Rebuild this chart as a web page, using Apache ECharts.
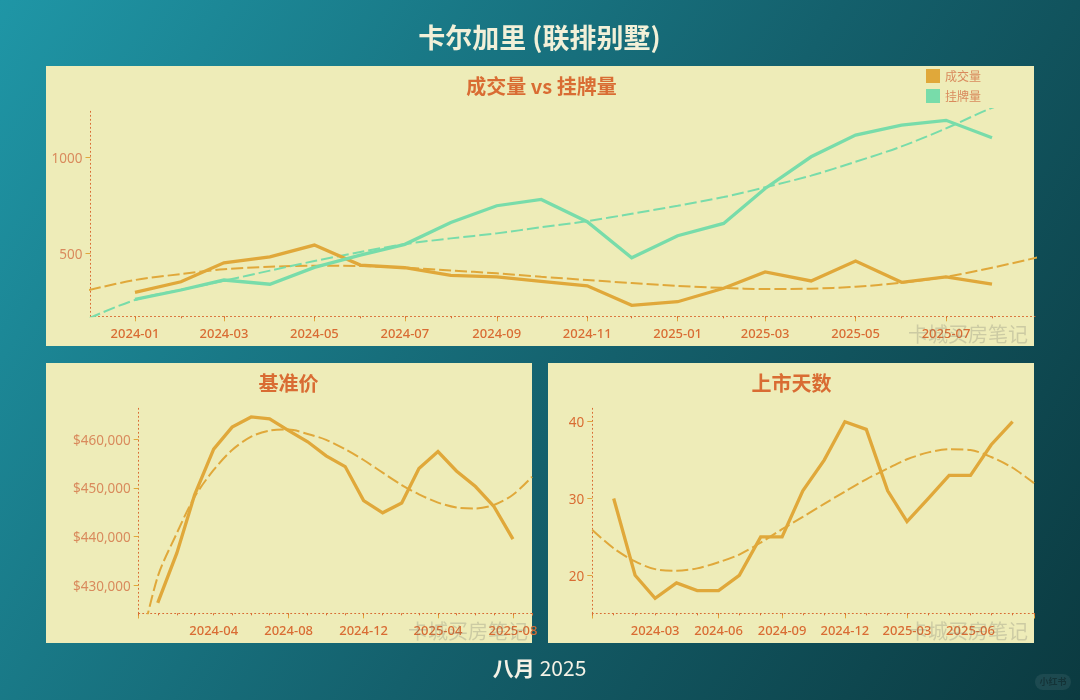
<!DOCTYPE html>
<html>
<head>
<meta charset="utf-8">
<title>卡尔加里 (联排别墅)</title>
<script src="https://cdn.jsdelivr.net/npm/echarts@6/dist/echarts.min.js"></script>
<style>
html,body{margin:0;padding:0;background:#14606c;}
#main{width:1080px;height:700px;}
</style>
</head>
<body>
<div id="main"></div>
<script>
// monthly data points
var months = ['2024-01-01','2024-02-01','2024-03-01','2024-04-01','2024-05-01','2024-06-01','2024-07-01','2024-08-01','2024-09-01','2024-10-01','2024-11-01','2024-12-01',
	'2025-01-01','2025-02-01','2025-03-01','2025-04-01','2025-05-01','2025-06-01','2025-07-01','2025-08-01'];
var sales = [297,352,451,482,543,439,425,385,377,354,331,229,248,318,403,356,460,349,377,339];
var listings = [260,309,361,339,427,491,547,661,748,781,665,477,592,656,838,1003,1116,1168,1193,1102];
var benchmark = [426400,436600,448600,458000,462500,464600,464200,461800,459500,456600,454400,447400,444900,446900,454000,457500,453500,450300,446200,439500];
var dom = [30,20,17,19,18,18,20,25,25,31,35,40,39,31,27,30,33,33,37,40];

// trend lines run one month past the data on both sides
var trendDates = ['2023-12-01'].concat(months, ['2025-09-01']);
var salesTrend = [309,361,392,417,430,436,434,425,411,396,378,361,345,330,320,314,316,326,347,378,425,479];
var listingsTrend = [162,257,310,357,410,460,507,548,578,604,636,668,706,748,793,844,905,977,1057,1151,1258,1340];
var benchmarkTrend = [416000,431800,440700,448200,453700,457800,460550,461800,462000,461100,459900,457950,455750,453150,450600,448700,447000,446000,445800,446500,448600,452300];
var domTrend = [25.9,23.5,21.8,20.8,20.6,20.9,21.7,22.7,24.25,26,27.6,29.3,30.9,32.5,33.9,35.1,36,36.4,36.3,35.4,34,32];

// tick labels
var topTicks = ['2024-01-01','2024-03-01','2024-05-01','2024-07-01','2024-09-01','2024-11-01','2025-01-01','2025-03-01','2025-05-01','2025-07-01'];
var leftTicks = ['2024-04-01','2024-08-01','2024-12-01','2025-04-01','2025-08-01'];
var leftTickMarks = ['2023-12-01'].concat(leftTicks);
var rightTicks = ['2024-03-01','2024-06-01','2024-09-01','2024-12-01','2025-03-01','2025-06-01'];
var rightTickMarks = ['2023-12-01'].concat(rightTicks, ['2025-09-01']);
var allMonthTicks = ['2023-12-01'].concat(months, ['2025-09-01']);

var GOLD = '#e0a83a', GREEN = '#78dcaa', ORANGE = '#d96c33', SOFT = '#d98a5c', PANEL = '#eeecb8';
var FONT = '"Noto Sans", sans-serif';
var CJK = '"Noto Sans CJK SC", sans-serif';

function ts(s){
	return echarts.number.parseDate(s).getTime();
}
function pairs(xs, ys){
	return xs.map(function(x, i){ return [ts(x), ys[i]]; });
}
function mainXAxis(gridIndex, min, max, labels, marks){
	return {
		type: 'time', gridIndex: gridIndex, position: 'bottom', min: ts(min), max: ts(max),
		splitLine: {show: false},
		axisLine: {show: true, lineStyle: {color: ORANGE, type: [1, 3], width: 1}},
		axisTick: {show: true, length: 5, customValues: marks.map(ts), lineStyle: {color: GOLD}},
		axisLabel: {
			customValues: labels.map(ts), margin: 11, color: ORANGE, fontFamily: FONT, fontSize: 13, fontWeight: 500,
			hideOverlap: false, showMinLabel: true, showMaxLabel: true,
			formatter: '{yyyy}-{MM}'
		}
	};
}
// 每月的小刻度
function minorXAxis(gridIndex, min, max){
	return {
		type: 'time', gridIndex: gridIndex, position: 'bottom', min: ts(min), max: ts(max),
		splitLine: {show: false},
		axisLine: {show: false},
		axisTick: {show: true, length: 2, customValues: allMonthTicks.map(ts), lineStyle: {color: ORANGE}},
		axisLabel: {show: false}
	};
}
function yAxis(gridIndex, min, max, ticks, color, formatter){
	return {
		type: 'value', gridIndex: gridIndex, min: min, max: max,
		axisLine: {show: true, lineStyle: {color: ORANGE, type: [1, 3], width: 1}},
		axisTick: {show: true, length: 5, customValues: ticks, lineStyle: {color: GOLD}},
		splitLine: {show: false},
		axisLabel: {
			customValues: ticks, margin: 8,
			formatter: function(v){ return '{t|' + formatter(v) + '}'; },
			rich: {t: {color: color, fontFamily: FONT, fontSize: 13.5, padding: [3, 0, 0, 0]}}
		}
	};
}
function line(name, data, axisIndex, color){
	return {
		name: name, type: 'line', xAxisIndex: axisIndex, yAxisIndex: axisIndex, data: data,
		showSymbol: false, symbol: 'none', itemStyle: {color: color},
		lineStyle: {color: color, width: 3.3, join: 'miter'}, z: 3
	};
}
function trend(name, data, axisIndex, color){
	return {
		name: name, type: 'line', xAxisIndex: axisIndex, yAxisIndex: axisIndex, data: data,
		showSymbol: false, symbol: 'none', smooth: 0.3, clip: true,
		lineStyle: {color: color, width: 2, type: [12, 4]}, z: 2
	};
}
function panel(x, y, w, h){
	return {type: 'rect', z: -10, silent: true, shape: {x: x, y: y, width: w, height: h}, style: {fill: PANEL}};
}
function watermark(x, y){
	return {
		type: 'text', z: 10, silent: true, x: x, y: y,
		style: {text: '卡城买房笔记', fill: 'rgba(120,120,110,0.28)', font: '400 20px ' + CJK, textAlign: 'right', textVerticalAlign: 'middle'}
	};
}
function subTitle(text, x, y){
	return {
		text: text, left: x, top: y, padding: 0, textAlign: 'center',
		textStyle: {color: ORANGE, fontFamily: CJK, fontSize: 20, fontWeight: 'bold'}
	};
}

var myChart = echarts.init(document.getElementById('main'), null, {renderer: 'canvas'});
var option = {
	animation: false,
	backgroundColor: new echarts.graphic.LinearGradient(0, 0, 1, 1, [
		{offset: 0, color: '#1f96a6'},
		{offset: 0.55, color: '#14606c'},
		{offset: 1, color: '#0b3a40'}
	]),
	title: [
		{
			text: '卡尔加里 (联排别墅)', left: 539.5, top: 24, padding: 0, textAlign: 'center',
			textStyle: {color: '#f2f0d8', fontFamily: CJK, fontSize: 27, fontWeight: 'bold'}
		},
		subTitle('成交量 vs 挂牌量', 541.5, 76),
		subTitle('基准价', 288.5, 373),
		subTitle('上市天数', 791.5, 373),
		{
			text: '{b|八月} {n|2025}', left: 539.5, top: 658, padding: 0, textAlign: 'center',
			textStyle: {
				rich: {
					b: {color: '#f4f2e6', fontFamily: CJK, fontSize: 21, fontWeight: 'bold'},
					n: {color: '#f4f2e6', fontFamily: CJK, fontSize: 21, fontWeight: 'normal'}
				}
			}
		}
	],
	legend: {
		left: 926, top: 69, orient: 'vertical', itemWidth: 14, itemHeight: 14, itemGap: 6, icon: 'rect',
		data: ['成交量', '挂牌量'],
		textStyle: {color: SOFT, fontFamily: CJK, fontSize: 12},
		padding: 0
	},
	grid: [
		{left: 90.5, top: 109, width: 944.5, height: 207.3},
		{left: 138.7, top: 406, width: 393.3, height: 207.3},
		{left: 592.3, top: 406, width: 441.7, height: 207.3}
	],
	xAxis: [
		mainXAxis(0, '2023-12-02', '2025-08-30', topTicks, topTicks),
		mainXAxis(1, '2023-12-01', '2025-09-01', leftTicks, leftTickMarks),
		mainXAxis(2, '2023-12-01', '2025-09-01', rightTicks, rightTickMarks),
		minorXAxis(0, '2023-12-02', '2025-08-30'),
		minorXAxis(1, '2023-12-01', '2025-09-01'),
		minorXAxis(2, '2023-12-01', '2025-09-01')
	],
	yAxis: [
		yAxis(0, 172, 1252, [500, 1000], SOFT, String),
		yAxis(1, 424250, 466850, [430000, 440000, 450000, 460000], SOFT, function(v){
			return '$' + echarts.format.addCommas(v);
		}),
		yAxis(2, 15.05, 42.04, [20, 30, 40], ORANGE, String)
	],
	series: [
		trend('成交量趋势', pairs(trendDates, salesTrend), 0, GOLD),
		trend('挂牌量趋势', pairs(trendDates, listingsTrend), 0, GREEN),
		line('成交量', pairs(months, sales), 0, GOLD),
		line('挂牌量', pairs(months, listings), 0, GREEN),
		trend('基准价趋势', pairs(trendDates, benchmarkTrend), 1, GOLD),
		line('基准价', pairs(months, benchmark), 1, GOLD),
		trend('上市天数趋势', pairs(trendDates, domTrend), 2, GOLD),
		line('上市天数', pairs(months, dom), 2, GOLD)
	],
	graphic: {
		elements: [
			panel(46, 66, 988, 280),
			panel(46, 363, 486, 280),
			panel(548, 363, 486, 280),
			watermark(1028, 334),
			watermark(528, 631),
			watermark(1028, 631),
			{
				type: 'rect', silent: true, z: 5,
				shape: {x: 1035, y: 674, width: 36, height: 16, r: 8},
				style: {fill: 'rgba(255,255,255,0.07)'}
			},
			{
				type: 'text', silent: true, z: 6, x: 1053, y: 682,
				style: {text: '小红书', fill: 'rgba(0,0,0,0.3)', font: '700 9px ' + CJK, textAlign: 'center', textVerticalAlign: 'middle'}
			}
		]
	}
};
// 使用刚指定的配置项和数据显示图表。
myChart.setOption(option);
</script>
</body>
</html>
